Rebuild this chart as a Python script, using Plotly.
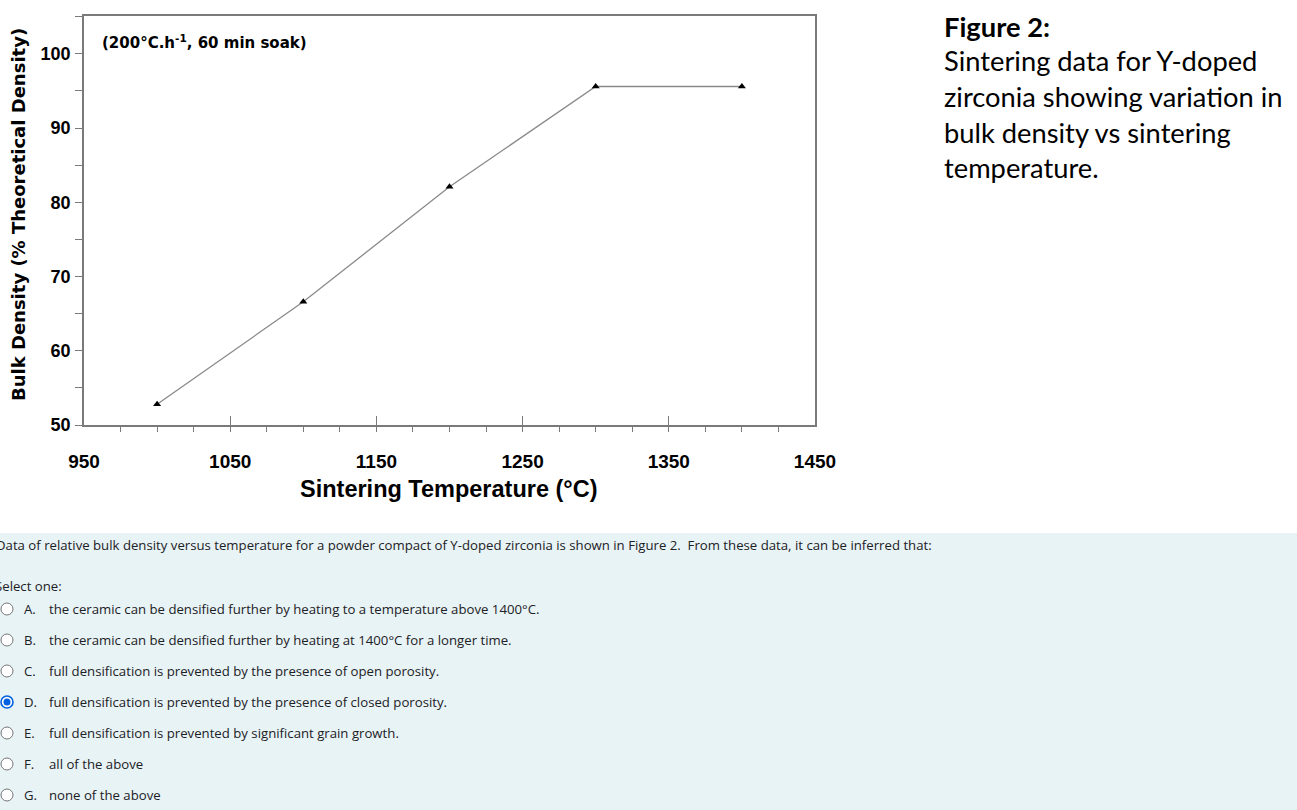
import plotly.graph_objects as go

W, H = 1297, 810

# Data
temperature = [1000, 1100, 1200, 1300, 1400]
density = [52.8, 66.6, 82.1, 95.6, 95.6]
x_ticks = [950, 1050, 1150, 1250, 1350, 1450]
y_ticks = [50, 60, 70, 80, 90, 100]

caption_lines = ["Sintering data for Y-doped", "zirconia showing variation in",
                 "bulk density vs sintering", "temperature."]
question = ("Data of relative bulk density versus temperature for a powder compact of "
            "Y-doped zirconia is shown in Figure 2.  From these data, it can be inferred that:")
option_letters = ["A.", "B.", "C.", "D.", "E.", "F.", "G."]
option_texts = [
    "the ceramic can be densified further by heating to a temperature above 1400°C.",
    "the ceramic can be densified further by heating at 1400°C for a longer time.",
    "full densification is prevented by the presence of open porosity.",
    "full densification is prevented by the presence of closed porosity.",
    "full densification is prevented by significant grain growth.",
    "all of the above",
    "none of the above",
]
selected = "D."


def px(x):
    return x / W


def py(y):
    return 1 - y / H


fig = go.Figure()
fig.add_trace(go.Scatter(
    x=temperature, y=density, mode="lines+markers",
    line=dict(color="#8a8a8a", width=1.3),
    marker=dict(symbol="triangle-up", size=7, color="black"),
    showlegend=False, hoverinfo="skip"))

axcol = "#7a7a7a"

fig.update_layout(
    width=W, height=H, margin=dict(l=0, r=0, t=0, b=0, autoexpand=False),
    paper_bgcolor="white", plot_bgcolor="white",
    xaxis=dict(domain=[px(84), px(815)], range=[950, 1450], tickvals=x_ticks,
               ticks="inside", ticklen=9, tickcolor=axcol, tickwidth=1.2,
               minor=dict(dtick=25, tick0=950, ticks="outside", ticklen=5,
                          tickcolor=axcol, tickwidth=1.2, showgrid=False),
               showline=True, linecolor=axcol, linewidth=1.5, mirror=True,
               showgrid=False, zeroline=False, automargin=False,
               tickfont=dict(family="Liberation Sans, Arial", size=19,
                             color="black", weight="bold"),
               ticklabelstandoff=18, fixedrange=True),
    yaxis=dict(domain=[py(425), py(16)], range=[50, 105.1], tickvals=y_ticks,
               ticks="outside", ticklen=7, tickcolor=axcol, tickwidth=1.2,
               minor=dict(dtick=5, tick0=50, ticks="outside", ticklen=7,
                          tickcolor=axcol, tickwidth=1.2, showgrid=False),
               showline=True, linecolor=axcol, linewidth=1.5, mirror=True,
               showgrid=False, zeroline=False, automargin=False,
               tickfont=dict(family="Liberation Sans, Arial", size=18,
                             color="black", weight="bold"),
               ticklabelstandoff=1, fixedrange=True),
)

ann = []


def add_text(x, y, text, font, xanchor="left", **kw):
    ann.append(dict(x=px(x), y=py(y), xref="paper", yref="paper",
                    xanchor=xanchor, yanchor="middle", text=text,
                    showarrow=False, font=font, **kw))


# axis titles
add_text(449, 489, "<b>Sintering Temperature (°C)</b>",
         dict(family="Liberation Sans, Arial", size=23.5, color="black"),
         xanchor="center")
add_text(18, 215, "<b>Bulk Density (% Theoretical Density)</b>",
         dict(family="DejaVu Sans", size=18, color="black"), xanchor="center",
         textangle=-90)
add_text(100, 42, "<b>(200°C.h<sup>-1</sup>, 60 min soak)</b>",
         dict(family="DejaVu Sans", size=15, color="black"))

# right caption
cap_font = dict(family="Lato, Carlito, Calibri", size=27.3, color="black")
add_text(942, 27, "<b>Figure 2:</b>", cap_font)
for i, line in enumerate(caption_lines):
    add_text(942, 61 + i * 35.5, line, cap_font)

# question area
qfont = dict(family="Open Sans, Noto Sans", size=13.2, color="#1d2125")
add_text(-6, 545, question, qfont)
add_text(-7, 586, "Select one:", qfont)

shapes = [dict(type="rect", xref="paper", yref="paper", x0=0, x1=1,
               y0=0, y1=py(533), fillcolor="#e7f3f5", line=dict(width=0),
               layer="below")]

for i, (letter, txt) in enumerate(zip(option_letters, option_texts)):
    yc = 609 + i * 31
    add_text(22, yc, letter, qfont)
    add_text(47, yc, txt, qfont)
    r = 6
    if letter == selected:
        shapes.append(dict(type="circle", xref="paper", yref="paper",
                           x0=px(7 - r), x1=px(7 + r), y0=py(yc + r), y1=py(yc - r),
                           fillcolor="white", line=dict(color="#0060df", width=1.6)))
        shapes.append(dict(type="circle", xref="paper", yref="paper",
                           x0=px(7 - 3.5), x1=px(7 + 3.5), y0=py(yc + 3.5), y1=py(yc - 3.5),
                           fillcolor="#0060df", line=dict(width=0)))
    else:
        shapes.append(dict(type="circle", xref="paper", yref="paper",
                           x0=px(7 - r), x1=px(7 + r), y0=py(yc + r), y1=py(yc - r),
                           fillcolor="white", line=dict(color="#767676", width=1)))

fig.update_layout(annotations=ann, shapes=shapes)
fig.write_html("out.html")
